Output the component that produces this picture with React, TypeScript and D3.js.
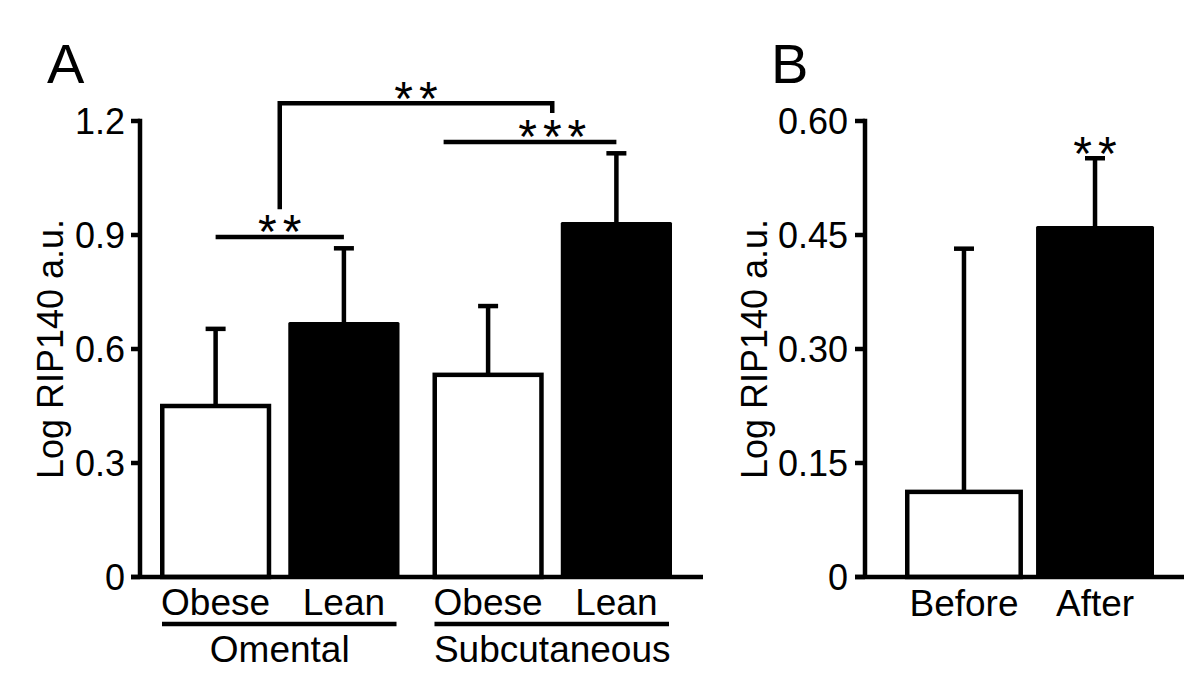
import React from "react";
import * as d3 from "d3";

// ---------- Data ----------
const groupsA = ["Omental", "Subcutaneous"];
const subgroupsA = ["Obese", "Lean"];
const meansA = [0.45, 0.665, 0.532, 0.928]; // Omental Obese, Omental Lean, Subcut Obese, Subcut Lean
const errorsA = [0.203, 0.2, 0.181, 0.187];
const ticksA = [0, 0.3, 0.6, 0.9, 1.2];
const tickLabelsA = ["0", "0.3", "0.6", "0.9", "1.2"];

const categoriesB = ["Before", "After"];
const meansB = [0.112, 0.459];
const errorsB = [0.32, 0.092];
const ticksB = [0, 0.15, 0.3, 0.45, 0.6];
const tickLabelsB = ["0", "0.15", "0.30", "0.45", "0.60"];

const yTitle = "Log RIP140 a.u.";
const FONT = "'Liberation Sans', Arial, Helvetica, sans-serif";
const SW = 4.5;

export default function App() {
  // Scales panel A
  const yA = d3.scaleLinear().domain([0, 1.2]).range([577, 121]);
  const outer = d3.scaleBand().domain(groupsA).range([160, 672]).paddingInner(0.121);
  const inner = d3
    .scaleBand()
    .domain(subgroupsA)
    .range([0, outer.bandwidth()])
    .paddingInner(0.133);
  const bw = inner.bandwidth();
  const barsA = groupsA.flatMap((g, gi) =>
    subgroupsA.map((s, si) => {
      const i = gi * subgroupsA.length + si;
      const x0 = (outer(g) as number) + (inner(s) as number);
      return { g, s, x0, cx: x0 + bw / 2, v: meansA[i], e: errorsA[i], filled: s === "Lean" };
    })
  );

  // Scales panel B
  const yB = d3.scaleLinear().domain([0, 0.6]).range([577, 121]);
  const xB = d3.scaleBand().domain(categoriesB).range([905, 1154]).paddingInner(0.1);
  const bwB = xB.bandwidth();
  const barsB = categoriesB.map((c, i) => {
    const x0 = xB(c) as number;
    return { c, x0, cx: x0 + bwB / 2, v: meansB[i], e: errorsB[i], filled: i === 1 };
  });

  const axisXA = 140;
  const axisXB = 865;

  const stars = (txt: string, cx: number, cy: number, key: string) => {
    const fs = 48;
    const ls = 6;
    return (
      <text
        key={key}
        x={cx + ls / 2}
        y={cy + fs * 0.5}
        textAnchor="middle"
        fontSize={fs}
        fontFamily={FONT}
        letterSpacing={ls}
        fill="#000"
      >
        {txt}
      </text>
    );
  };

  const renderBar = (b: any, y: any, width: number, k: string) => {
    const top = y(b.v);
    const errTop = y(b.v + b.e);
    return (
      <g key={k}>
        {b.filled ? (
          <rect x={b.x0} y={top - SW / 2} width={width} height={y(0) - top + SW / 2} fill="#000" rx={1.5} />
        ) : (
          <rect
            x={b.x0 + SW / 2}
            y={top}
            width={width - SW}
            height={y(0) - top}
            fill="#fff"
            stroke="#000"
            strokeWidth={SW}
          />
        )}
        <line x1={b.cx} x2={b.cx} y1={top} y2={errTop} stroke="#000" strokeWidth={SW} />
        <line x1={b.cx - 10} x2={b.cx + 10} y1={errTop} y2={errTop} stroke="#000" strokeWidth={SW} />
      </g>
    );
  };

  // Annotation positions (panel A)
  const c0 = barsA[0].cx;
  const c1 = barsA[1].cx;
  const c3 = barsA[3].cx;
  const subCenter = (outer("Subcutaneous") as number) + outer.bandwidth() / 2;
  const br1Y = yA(0.895);
  const bigTopY = yA(1.247);
  const bigLeftBottom = yA(0.968);
  const bigRightBottom = yA(1.221);
  const br3Y = yA(1.145);
  const br3Left = barsA[2].x0 + bw * 0.1;
  const bigLeft = (c0 + c1) / 2;

  return (
    <svg width={1200} height={698} style={{ display: "block", position: "absolute", left: 0, top: 0 }}>
      <rect width={1200} height={698} fill="#fff" />

      {/* ---------------- Panel A ---------------- */}
      <text x={47} y={83} fontSize={56} fontFamily={FONT}>A</text>
      <text
        transform={`translate(63, ${(yA(0) + yA(1.2)) / 2}) rotate(-90)`}
        textAnchor="middle"
        fontSize={36}
        fontFamily={FONT}
      >
        {yTitle}
      </text>
      {barsA.map((b, i) => renderBar(b, yA, bw, "a" + i))}
      {/* axes */}
      <line x1={axisXA} x2={axisXA} y1={yA(1.2) - SW / 2} y2={yA(0)} stroke="#000" strokeWidth={SW} />
      <line x1={131} x2={703} y1={yA(0)} y2={yA(0)} stroke="#000" strokeWidth={SW} />
      {ticksA.map((t, i) => (
        <g key={"ta" + i}>
          <line x1={131} x2={axisXA} y1={yA(t)} y2={yA(t)} stroke="#000" strokeWidth={SW} />
          <text
            x={125}
            y={yA(t)}
            dy="0.36em"
            textAnchor="end"
            fontSize={36}
            fontFamily={FONT}
          >
            {tickLabelsA[i]}
          </text>
        </g>
      ))}
      {/* x labels */}
      {barsA.map((b, i) => (
        <text key={"xl" + i} x={b.cx} y={615} textAnchor="middle" fontSize={37} fontFamily={FONT}>
          {b.s}
        </text>
      ))}
      {groupsA.map((g, i) => {
        const gx = outer(g) as number;
        const gc = gx + outer.bandwidth() / 2;
        return (
          <g key={"g" + i}>
            <line x1={gx + 2} x2={gx + outer.bandwidth() - 3} y1={624} y2={624} stroke="#000" strokeWidth={SW} />
            <text x={gc} y={662} textAnchor="middle" fontSize={37} fontFamily={FONT}>
              {g}
            </text>
          </g>
        );
      })}
      {/* significance brackets */}
      <line x1={c0} x2={c1} y1={br1Y} y2={br1Y} stroke="#000" strokeWidth={SW} />
      {stars("**", bigLeft, br1Y - 13, "s1")}
      <path
        d={`M${bigLeft},${bigLeftBottom} V${bigTopY} H${subCenter} V${bigRightBottom}`}
        fill="none"
        stroke="#000"
        strokeWidth={SW}
      />
      {stars("**", (bigLeft + subCenter) / 2, bigTopY - 12, "s2")}
      <line x1={br3Left} x2={c3} y1={br3Y} y2={br3Y} stroke="#000" strokeWidth={SW} />
      {stars("***", subCenter, br3Y - 13, "s3")}

      {/* ---------------- Panel B ---------------- */}
      <text x={771} y={83} fontSize={56} fontFamily={FONT}>B</text>
      <text
        transform={`translate(767, ${(yB(0) + yB(0.6)) / 2}) rotate(-90)`}
        textAnchor="middle"
        fontSize={36}
        fontFamily={FONT}
      >
        {yTitle}
      </text>
      {barsB.map((b, i) => renderBar(b, yB, bwB, "b" + i))}
      <line x1={axisXB} x2={axisXB} y1={yB(0.6) - SW / 2} y2={yB(0)} stroke="#000" strokeWidth={SW} />
      <line x1={855} x2={1184} y1={yB(0)} y2={yB(0)} stroke="#000" strokeWidth={SW} />
      {ticksB.map((t, i) => (
        <g key={"tb" + i}>
          <line x1={855} x2={axisXB} y1={yB(t)} y2={yB(t)} stroke="#000" strokeWidth={SW} />
          <text x={848} y={yB(t)} dy="0.36em" textAnchor="end" fontSize={36} fontFamily={FONT}>
            {tickLabelsB[i]}
          </text>
        </g>
      ))}
      {barsB.map((b, i) => (
        <text key={"xb" + i} x={b.cx} y={616} textAnchor="middle" fontSize={37} fontFamily={FONT}>
          {b.c}
        </text>
      ))}
      {stars("**", barsB[1].cx, yB(barsB[1].v + barsB[1].e) - 12, "sb")}
    </svg>
  );
}
